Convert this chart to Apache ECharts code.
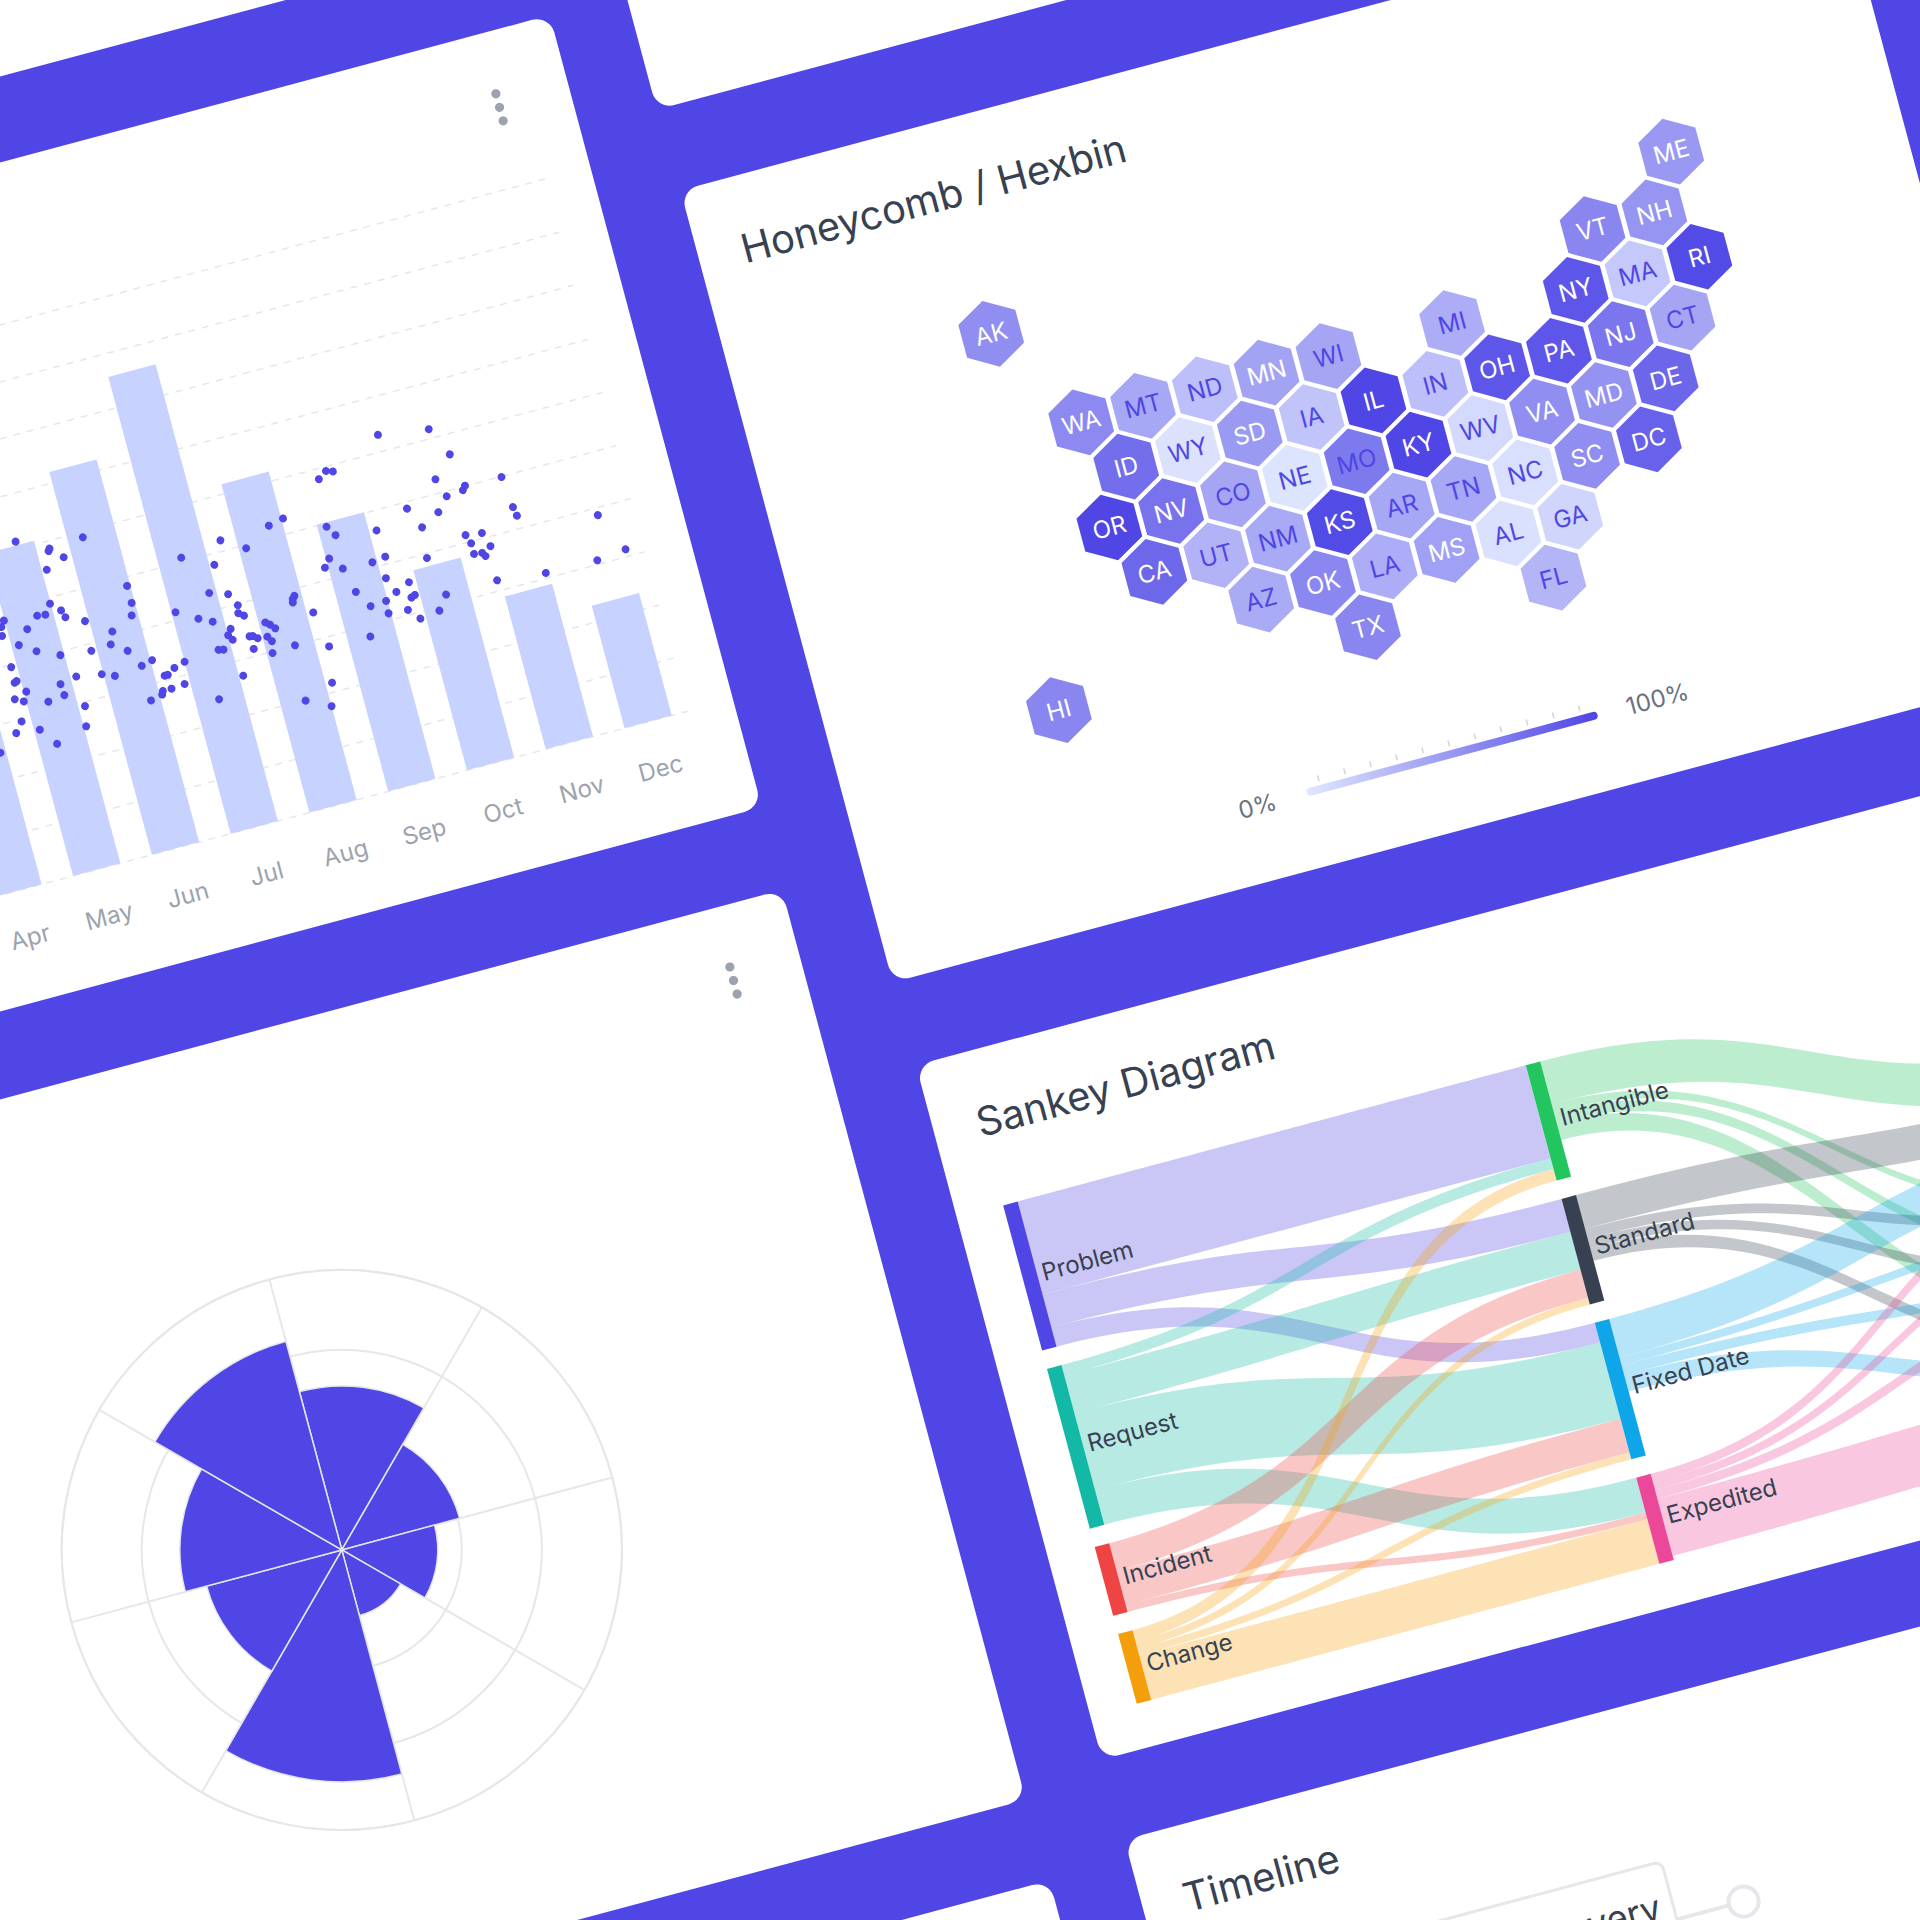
<!DOCTYPE html>
<html>
<head>
<meta charset="utf-8">
<style>
  html, body { margin: 0; width: 1920px; height: 1920px; overflow: hidden; background: #4f46e5; }
  /* whole board is tilted, everything below is laid out in the tilted frame */
  #board { position: absolute; left: 0; top: 0; width: 2440px; height: 2400px;
           transform-origin: 0 0; transform: translate(-540.9px, 144.9px) rotate(-15deg); }
</style>
<script src="https://cdn.jsdelivr.net/npm/echarts@6/dist/echarts.min.js"></script>
</head>
<body>
<div id="board"></div>
<script>
// bar + scatter card
const months = ['Apr', 'May', 'Jun', 'Jul', 'Aug', 'Sep', 'Oct', 'Nov', 'Dec'];
const barValues = [480, 606, 719, 858, 617, 501, 376, 287, 230];
const scatterPoints = [
  [6.21,630],[6.83,616],[7.00,562],[5.56,587],[5.48,591],[5.37,580],[6.75,525],[7.54,498],[7.08,500],[7.04,493],
  [6.83,490],[6.68,466],[6.32,487],[7.58,440],[7.60,423],[8.56,386],[4.82,528],[4.63,522],[5.31,493],[5.39,474],
  [5.89,463],[6.44,447],[6.93,413],[7.13,409],[6.97,396],[7.19,382],[7.07,374],[6.97,376],[7.10,367],[2.39,589],
  [1.58,613],[1.96,585],[1.94,581],[2.10,563],[4.01,519],[4.29,493],[3.49,507],[3.86,479],[1.86,549],[5.24,436],
  [5.16,422],[5.37,412],[5.74,409],[5.91,413],[6.40,391],[8.41,307],[8.78,313],[7.76,309],[7.16,319],[5.85,375],
  [6.11,357],[5.93,346],[5.45,365],[6.14,332],[6.09,329],[6.51,318],[2.76,483],[2.76,451],[2.72,429],[1.79,488],
  [1.90,471],[1.70,471],[1.60,473],[1.93,457],[2.15,441],[1.19,480],[1.14,470],[1.12,454],[1.44,454],[1.29,430],
  [1.48,411],[1.75,393],[2.13,386],[2.44,410],[2.38,388],[2.56,369],[3.25,414],[3.71,432],[3.93,421],[4.01,397],
  [3.99,383],[4.05,376],[3.50,392],[3.66,380],[3.85,359],[3.80,349],[3.84,339],[3.64,328],[3.70,326],[4.06,313],
  [4.05,337],[4.09,336],[4.14,330],[4.26,328],[4.28,354],[4.33,348],[4.38,339],[4.30,318],[4.27,297],[4.56,300],
  [4.71,387],[4.68,382],[4.67,376],[4.88,349],[4.96,282],[5.58,333],[5.78,335],[5.77,312],[6.01,309],[6.13,288],
  [6.38,293],[5.48,280],[1.13,395],[1.15,368],[1.12,366],[1.23,345],[1.07,337],[1.17,329],[1.46,317],[1.66,342],
  [1.67,321],[1.87,348],[2.18,340],[2.33,331],[2.68,336],[2.82,341],[2.92,308],[2.96,308],[3.06,317],[3.20,323],
  [3.13,284],[2.96,282],[2.85,282],[2.83,276],[2.68,271],[3.49,241],[3.85,271],[4.51,198],[4.88,217],[4.80,176],
  [1.88,292],[1.83,256],[1.08,295],[0.98,277],[1.27,272],[1.43,239],[0.73,250]
];

// hexbin card: [state, column, row, percent]
const hexStates = [
  ['ME',10,0,49],['AK',-1,0,55],
  ['VT',8.5,1,60],['NH',9.5,1,51],
  ['WA',0,2,58],['MT',1,2,39],['ND',2,2,25],['MN',3,2,42],['WI',4,2,41],['MI',6,2,36],['NY',8,2,90],['MA',9,2,19],['RI',10,2,97],
  ['ID',0.5,3,75],['WY',1.5,3,3],['SD',2.5,3,48],['IA',3.5,3,22],['IL',4.5,3,100],['IN',5.5,3,25],['OH',6.5,3,90],['PA',7.5,3,90],['NJ',8.5,3,70],['CT',9.5,3,41],
  ['OR',0,4,100],['NV',1,4,72],['CO',2,4,41],['NE',3,4,2],['MO',4,4,68],['KY',5,4,100],['WV',6,4,8],['VA',7,4,55],['MD',8,4,52],['DE',9,4,80],
  ['CA',0.5,5,79],['UT',1.5,5,32],['NM',2.5,5,38],['KS',3.5,5,97],['AR',4.5,5,40],['TN',5.5,5,40],['NC',6.5,5,5],['SC',7.5,5,55],['DC',8.5,5,83],
  ['AZ',2,6,37],['OK',3,6,59],['LA',4,6,36],['MS',5,6,44],['AL',6,6,4],['GA',7,6,11],
  ['TX',3.5,7,60],['FL',6.5,7,31],['HI',-1.5,7,60]
];
const hexDarkText = ['MT','ND','WI','WY','IA','MO','NE','CO','UT','NM','AZ','LA','AR','TN','IN','MI','MA','CT','WV','NC','GA','AL','FL'];

// polar card
const countries = ['Austria', 'France', 'Italy', 'Germany', 'Portugal', 'Poland', 'Hungary', 'Finland'];
const countryValues = [41, 30.5, 24, 17, 58, 35, 40.5, 54];
const ringValues = [10, 30, 50, 70];

// sankey card
const sankeyNames = ['Problem', 'Request', 'Incident', 'Change', 'Intangible', 'Standard', 'Fixed Date', 'Expedited', 'Tier 1', 'Tier 2', 'Tier 3', 'Tier 4'];
const sankeyLinks = [
  ['Problem','Intangible',96],['Problem','Standard',34],['Problem','Fixed Date',20],
  ['Request','Intangible',11],['Request','Standard',39],['Request','Fixed Date',79],['Request','Expedited',36],
  ['Incident','Standard',29],['Incident','Fixed Date',35],['Incident','Expedited',7],
  ['Change','Intangible',12],['Change','Standard',7],['Change','Fixed Date',7],['Change','Expedited',46],
  ['Intangible','Tier 1',44],['Intangible','Tier 2',8],['Intangible','Tier 3',11],['Intangible','Tier 4',18],
  ['Standard','Tier 1',35],['Standard','Tier 2',10],['Standard','Tier 3',10],['Standard','Tier 4',13],
  ['Fixed Date','Tier 1',40],['Fixed Date','Tier 2',8],['Fixed Date','Tier 3',10],['Fixed Date','Tier 4',17],
  ['Expedited','Tier 1',9],['Expedited','Tier 2',8],['Expedited','Tier 3',9],['Expedited','Tier 4',59]
];

const timelineLabel = 'Recovery';

const INDIGO = '#4f46e5';
const INK = '#374151';
const GRID = '#e5e7eb';
const FONT = 'Inter';
const OX = 560; // tilted frame x offset

const nodeColors = {
  Problem: INDIGO, Request: '#14b8a6', Incident: '#ef4444', Change: '#f59e0b',
  Intangible: '#22c55e', Standard: '#374151', 'Fixed Date': '#0ea5e9', Expedited: '#ec4899',
  'Tier 1': '#8b5cf6', 'Tier 2': '#f97316', 'Tier 3': '#84cc16', 'Tier 4': '#06b6d4'
};
// third column sits off the picture, only its height matters
const nodeLocalY = { 'Tier 1': 0.2326, 'Tier 2': 0.517, 'Tier 3': 0.62, 'Tier 4': 0.771 };

function card(u0, v0, u1, v1) {
  return {
    type: 'rect', silent: true, z: -2,
    shape: { x: u0 + OX, y: v0, width: u1 - u0, height: v1 - v0, r: 18 },
    style: { fill: '#fff' }
  };
}

function kebab(vc) {
  return [-14, 0, 14].map(d => ({
    type: 'circle', silent: true, z: 1,
    shape: { cx: 454.7 + OX, cy: vc + d, r: 4.6 },
    style: { fill: '#9ca3af' }
  }));
}

function legendTicks() {
  const out = [];
  for (let i = 0; i <= 10; i++) {
    const x = 1072 + i * 27 + OX;
    out.push({ type: 'line', silent: true, shape: { x1: x, y1: 1090, x2: x, y2: 1096 }, style: { stroke: '#d1d5db', lineWidth: 1.5 } });
  }
  return out;
}

const graphicEls = [
  card(-700, -200, 527, 74),
  card(606, -300, 1807, 276),
  card(-700, 157, 527, 977),
  card(608, 360, 1807, 1180),
  card(-700, 1062, 525, 2004),
  card(609, 1266, 1880, 1985),
  card(-700, 2088, 527, 2500),
  card(610, 2068, 1880, 2500),
  ...kebab(233),
  ...kebab(1137),
  {
    type: 'rect', silent: true,
    shape: { x: 1057 + OX, y: 1100, width: 301, height: 8, r: 4 },
    style: { fill: new echarts.graphic.LinearGradient(0, 0, 1, 0, [{ offset: 0, color: '#e0e7ff' }, { offset: 1, color: INDIGO }]) }
  },
  ...legendTicks(),
  { type: 'text', silent: true, x: 1006 + OX, y: 1104, style: { text: '0%', fill: '#6b7280', font: '24px ' + FONT, textAlign: 'center', textVerticalAlign: 'middle' } },
  { type: 'text', silent: true, x: 1420 + OX, y: 1104, style: { text: '100%', fill: '#6b7280', font: '24px ' + FONT, textAlign: 'center', textVerticalAlign: 'middle' } },
  // timeline stub at the bottom edge
  {
    type: 'rect', silent: true,
    shape: { x: 700 + OX, y: 2228, width: 423, height: 120, r: 8 },
    style: { fill: '#fff', stroke: GRID, lineWidth: 3 }
  },
  { type: 'text', silent: true, x: 1110 + OX, y: 2271, style: { text: timelineLabel, fill: INK, font: '36px ' + FONT, textAlign: 'right', textVerticalAlign: 'middle' } },
  { type: 'line', silent: true, shape: { x1: 1123 + OX, y1: 2288, x2: 1177 + OX, y2: 2288 }, style: { stroke: GRID, lineWidth: 4 } },
  { type: 'circle', silent: true, shape: { cx: 1192 + OX, cy: 2288, r: 15 }, style: { fill: '#fff', stroke: GRID, lineWidth: 4 } }
];

const option = {
  animation: false,
  backgroundColor: 'transparent',
  textStyle: { fontFamily: FONT },
  title: [
    { text: 'Honeycomb / Hexbin', left: 652 + OX, top: 413, padding: 0, textStyle: { fontSize: 40, fontWeight: 400, color: INK, fontFamily: FONT } },
    { text: 'Sankey Diagram', left: 653 + OX, top: 1318, padding: 0, textStyle: { fontSize: 40, fontWeight: 400, color: INK, fontFamily: FONT } },
    { text: 'Timeline', left: 652 + OX, top: 2120, padding: 0, textStyle: { fontSize: 40, fontWeight: 400, color: INK, fontFamily: FONT } }
  ],
  grid: [
    { left: -254 + OX, top: 314, width: 734, height: 551 },
    { left: 807 + OX, top: 579, width: 832, height: 381 }
  ],
  xAxis: [
    {
      type: 'category', gridIndex: 0, data: months,
      axisLine: { show: false }, axisTick: { show: false },
      axisLabel: { color: '#9ca3af', fontSize: 24, margin: 36, interval: 0, fontFamily: FONT }
    },
    { type: 'value', gridIndex: 0, min: 0, max: 9, show: false },
    { type: 'value', gridIndex: 1, min: -2, max: 11, show: false }
  ],
  yAxis: [
    {
      type: 'value', gridIndex: 0, min: 0, max: 1000, interval: 100,
      axisLine: { show: false }, axisTick: { show: false }, axisLabel: { show: false },
      splitLine: { lineStyle: { color: GRID, type: [7, 7], width: 1.5 } }
    },
    { type: 'value', gridIndex: 1, min: 0, max: 7, inverse: true, show: false }
  ],
  polar: { center: [-71 + OX, 1585.6], radius: 280 },
  angleAxis: {
    type: 'category', data: countries, startAngle: 90, clockwise: true,
    axisTick: { show: false }, axisLabel: { show: false },
    axisLine: { lineStyle: { color: GRID, width: 2 } },
    splitLine: { show: true, lineStyle: { color: GRID, width: 2 } }
  },
  radiusAxis: {
    type: 'value', min: 0, max: 70,
    axisLine: { show: false }, axisLabel: { show: false },
    axisTick: { show: false, customValues: ringValues },
    splitLine: { show: true, lineStyle: { color: GRID, width: 2 } }
  },
  visualMap: {
    type: 'continuous', show: false, seriesIndex: 2, dimension: 3, min: 0, max: 100,
    inRange: { color: ['#e0e7ff', INDIGO] }
  },
  series: [
    {
      type: 'bar', xAxisIndex: 0, yAxisIndex: 0, data: barValues, barWidth: '60%',
      itemStyle: { color: '#c7d2fe' }, silent: true
    },
    {
      type: 'scatter', xAxisIndex: 1, yAxisIndex: 0, data: scatterPoints, symbolSize: 8,
      itemStyle: { color: INDIGO, opacity: 1 }, silent: true
    },
    {
      type: 'scatter', xAxisIndex: 2, yAxisIndex: 1, silent: true,
      symbol: 'path://M0,-2L1.732,-1L1.732,1L0,2L-1.732,1L-1.732,-1Z',
      symbolSize: [59, 68],
      itemStyle: { opacity: 1 },
      encode: { x: 1, y: 2 },
      data: hexStates.map(s => ({
        name: s[0],
        value: [s[0], s[1], s[2], s[3]],
        label: { color: hexDarkText.includes(s[0]) ? INDIGO : '#fff' }
      })),
      label: { show: true, position: 'inside', formatter: '{b}', fontSize: 24, fontFamily: FONT }
    },
    {
      type: 'bar', coordinateSystem: 'polar', data: countryValues, barCategoryGap: '0%', silent: true,
      itemStyle: { color: INDIGO, borderColor: GRID, borderWidth: 1.5 }
    },
    {
      type: 'scatter', coordinateSystem: 'polar', silent: true, symbolSize: 1,
      itemStyle: { color: 'transparent' },
      data: countries.map((c, i) => {
        const a = 22.5 + 45 * i;
        const rot = a > 270 ? a - 360 : (a > 90 ? a - 180 : a);
        return { name: c, value: [78.5, i], label: { rotate: -rot } };
      }),
      label: { show: true, position: 'inside', formatter: '{b}', color: INK, fontSize: 24, fontFamily: FONT }
    },
    {
      type: 'sankey', silent: true, left: 657 + OX, top: 1424, width: 1097, height: 516,
      nodeWidth: 15, nodeGap: 19, layoutIterations: 0, nodeAlign: 'justify', draggable: false,
      emphasis: { disabled: true },
      data: sankeyNames.map(n => ({
        name: n,
        localY: nodeLocalY[n],
        itemStyle: { color: nodeColors[n], borderWidth: 0 },
        label: { show: !(n in nodeLocalY) }
      })),
      links: sankeyLinks.map(l => ({ source: l[0], target: l[1], value: l[2] })),
      lineStyle: { color: 'source', opacity: 0.3, curveness: 0.5 },
      label: { position: 'right', distance: 5, color: INK, fontSize: 24, fontFamily: FONT }
    }
  ],
  graphic: { elements: graphicEls }
};

const chart = echarts.init(document.getElementById('board'), null, { renderer: 'svg', width: 2440, height: 2400 });
chart.setOption(option);
</script>
</body>
</html>
